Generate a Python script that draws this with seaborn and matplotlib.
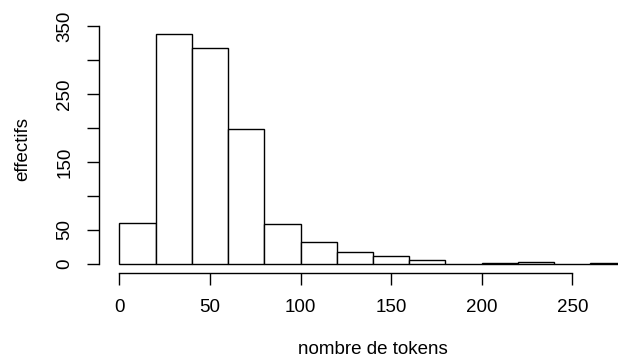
import numpy as np
import matplotlib
matplotlib.use("Agg")
import matplotlib.pyplot as plt
import seaborn as sns

# histogram of token counts (bins of width 20)
bin_edges = [0, 20, 40, 60, 80, 100, 120, 140, 160, 180, 200, 220, 240, 260, 280]
counts = [60, 338, 318, 199, 58, 32, 17, 11, 5, 0, 1, 2, 0, 1]
y_ticks = [0, 50, 100, 150, 200, 250, 300, 350]
y_labels = ["0", "50", "", "150", "", "250", "", "350"]
x_ticks = [0, 50, 100, 150, 200, 250]

sns.set_style("white")
plt.rcParams["font.family"] = ["Liberation Sans", "DejaVu Sans"]
plt.rcParams["text.color"] = "black"
plt.rcParams["axes.labelcolor"] = "black"
plt.rcParams["xtick.color"] = "black"
plt.rcParams["ytick.color"] = "black"

centers = [(a + b) / 2 for a, b in zip(bin_edges[:-1], bin_edges[1:])]

fig = plt.figure(figsize=(6.18, 3.63), dpi=100)
ax = fig.add_axes([99 / 618, 90 / 363, 548 / 618, 248 / 363])

sns.histplot(x=centers, weights=counts, bins=bin_edges, ax=ax,
             color="white", edgecolor="black", linewidth=1.0, alpha=1)

ax.set_xlim(-11.2, 291.2)
ax.set_ylim(-13.5, 351.5)

ax.spines["top"].set_visible(False)
ax.spines["right"].set_visible(False)
ax.spines["left"].set_bounds(0, 350)
ax.spines["bottom"].set_bounds(0, 250)
for s in ["left", "bottom"]:
    ax.spines[s].set_color("black")
    ax.spines[s].set_linewidth(1.0)

ax.set_xticks(x_ticks)
ax.set_xticklabels([str(v) for v in x_ticks])
ax.set_yticks(y_ticks)
ax.set_yticklabels(y_labels, rotation=90, va="center")
ax.tick_params(axis="both", direction="out", length=8.6, width=1.0,
               color="black", labelcolor="black", labelsize=13.5, pad=10,
               bottom=True, left=True)

ax.set_xlabel("nombre de tokens", fontsize=13.5, labelpad=18, color="black")
ax.set_ylabel("effectifs", fontsize=13.5, labelpad=18, color="black")

fig.savefig("out.png", dpi=100)
